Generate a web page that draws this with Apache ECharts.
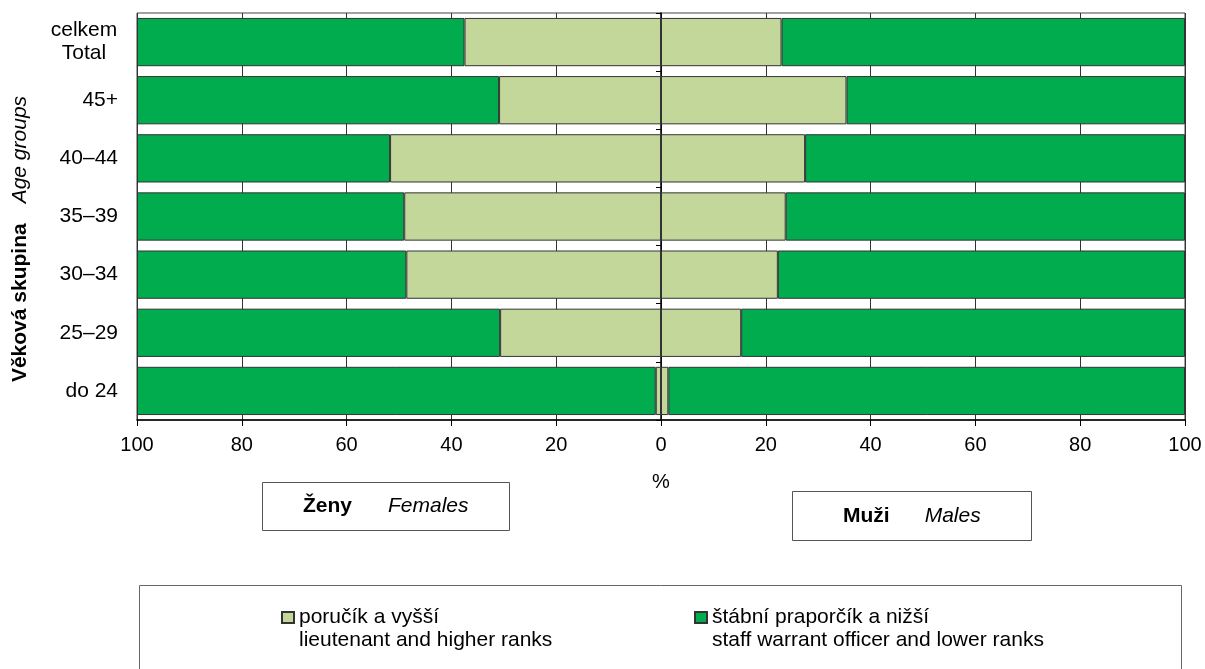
<!DOCTYPE html>
<html>
<head>
    <meta charset="UTF-8">
    <title>Věková skupina</title>
    <script src="https://cdn.jsdelivr.net/npm/echarts/dist/echarts.min.js"></script>
    <style>
        html, body { margin: 0; padding: 0; background: #fff; }
        #chart { width: 1205px; height: 669px; }
    </style>
</head>
<body>
    <div id="chart"></div>
    <script>
        // age groups, bottom to top
        const categories = ['do 24', '25–29', '30–34', '35–39', '40–44', '45+', 'celkem\nTotal'];
        // % of each sex in the age group
        const femaleLieutenant = [1.0, 30.7, 48.6, 49.0, 51.7, 30.9, 37.5];
        const femaleStaff = [99.0, 69.3, 51.4, 51.0, 48.3, 69.1, 62.5];
        const maleLieutenant = [1.4, 15.3, 22.3, 23.8, 27.5, 35.4, 23.0];
        const maleStaff = [98.6, 84.7, 77.7, 76.2, 72.5, 64.6, 77.0];
        const xTicks = [-100, -80, -60, -40, -20, 0, 20, 40, 60, 80, 100];

        const nameLieutenant = 'poručík a vyšší\nlieutenant and higher ranks';
        const nameStaff = 'štábní praporčík a nižší\nstaff warrant officer and lower ranks';

        const font = 'Arial, "Liberation Sans", sans-serif';
        const lightGreen = '#C4D79B';
        const darkGreen = '#00AC4E';

        const chart = echarts.init(document.getElementById('chart'));

        function barSeries(name, data, color, negative) {
            return {
                name: name,
                type: 'bar',
                stack: 'all',
                barCategoryGap: '17%',
                yAxisIndex: 0,
                itemStyle: { color: color, borderColor: '#333', borderWidth: 1 },
                data: negative ? data.map(v => -v) : data
            };
        }

        // empty first line so the icon sits level with the Czech line
        function legendItem(name, left) {
            return {
                data: [name],
                left: left,
                top: 583,
                padding: 0,
                selectedMode: false,
                icon: 'rect',
                itemWidth: 12,
                itemHeight: 11,
                formatter: n => '\n' + n,
                textStyle: {
                    fontFamily: font,
                    fontSize: 21,
                    color: '#000',
                    lineHeight: 23
                }
            };
        }

        const option = {
            animation: false,
            textStyle: { fontFamily: font },
            grid: {
                left: 137, right: 20, top: 13, bottom: 249,
                show: true, borderColor: '#444', borderWidth: 1
            },
            xAxis: {
                type: 'value',
                min: -100,
                max: 100,
                interval: 20,
                name: '%',
                nameLocation: 'middle',
                nameGap: 52,
                nameTextStyle: { fontFamily: font, fontSize: 20, color: '#000' },
                axisLine: { show: true, lineStyle: { color: '#000', width: 1.5 } },
                axisTick: { show: true, length: 6, lineStyle: { color: '#000' } },
                axisLabel: {
                    fontFamily: font, fontSize: 20, color: '#000', margin: 15,
                    formatter: v => xTicks.indexOf(v) >= 0 ? String(Math.abs(v)) : ''
                },
                splitLine: { show: true, lineStyle: { color: '#333', width: 1 } }
            },
            yAxis: [
                {
                    type: 'category',
                    data: categories,
                    axisLine: { show: false, onZero: false },
                    axisTick: { show: false },
                    axisLabel: {
                        fontFamily: font, fontSize: 21, color: '#000', margin: 19,
                        lineHeight: 23,
                        formatter: v => v.indexOf('\n') >= 0
                            ? v.split('\n').map(s => '{c|' + s + '}').join('\n')
                            : v,
                        rich: {
                            c: { width: 68, align: 'center', fontFamily: font, fontSize: 21, color: '#000', lineHeight: 23 }
                        }
                    }
                },
                {
                    type: 'category',
                    data: categories,
                    position: 'left',
                    axisLine: { show: true, onZero: true, lineStyle: { color: '#000', width: 1.5 } },
                    axisTick: { show: true, length: 5, lineStyle: { color: '#000' } },
                    axisLabel: { show: false }
                }
            ],
            legend: [
                legendItem(nameLieutenant, 281),
                legendItem(nameStaff, 694)
            ],
            series: [
                barSeries(nameLieutenant, femaleLieutenant, lightGreen, true),
                barSeries(nameStaff, femaleStaff, darkGreen, true),
                barSeries(nameLieutenant, maleLieutenant, lightGreen, false),
                barSeries(nameStaff, maleStaff, darkGreen, false)
            ],
            graphic: [
                {
                    type: 'text',
                    x: 20, y: 239,
                    rotation: Math.PI / 2,
                    style: {
                        text: '{b|Věková skupina}{i|Age groups}',
                        align: 'center',
                        verticalAlign: 'middle',
                        rich: {
                            b: { fontFamily: font, fontSize: 21, fontWeight: 'bold', fill: '#000' },
                            i: { fontFamily: font, fontSize: 21, fontStyle: 'italic', fill: '#000', padding: [0, 0, 0, 20] }
                        }
                    }
                },
                {
                    type: 'rect',
                    shape: { x: 262.5, y: 482.5, width: 247, height: 48 },
                    style: { fill: '#fff', stroke: '#555', lineWidth: 1 }
                },
                {
                    type: 'text',
                    x: 303, y: 506,
                    style: {
                        text: '{b|Ženy}{i|Females}',
                        verticalAlign: 'middle',
                        rich: {
                            b: { fontFamily: font, fontSize: 21, fontWeight: 'bold', fill: '#000' },
                            i: { fontFamily: font, fontSize: 21, fontStyle: 'italic', fill: '#000', padding: [0, 0, 0, 36] }
                        }
                    }
                },
                {
                    type: 'rect',
                    shape: { x: 792.5, y: 491.5, width: 239, height: 49 },
                    style: { fill: '#fff', stroke: '#555', lineWidth: 1 }
                },
                {
                    type: 'text',
                    x: 843, y: 516,
                    style: {
                        text: '{b|Muži}{i|Males}',
                        verticalAlign: 'middle',
                        rich: {
                            b: { fontFamily: font, fontSize: 21, fontWeight: 'bold', fill: '#000' },
                            i: { fontFamily: font, fontSize: 21, fontStyle: 'italic', fill: '#000', padding: [0, 0, 0, 35] }
                        }
                    }
                },
                {
                    type: 'rect',
                    z: -1,
                    shape: { x: 139.5, y: 585.5, width: 1042, height: 100 },
                    style: { fill: '#fff', stroke: '#666', lineWidth: 1 }
                }
            ]
        };

        chart.setOption(option);
    </script>
</body>
</html>
